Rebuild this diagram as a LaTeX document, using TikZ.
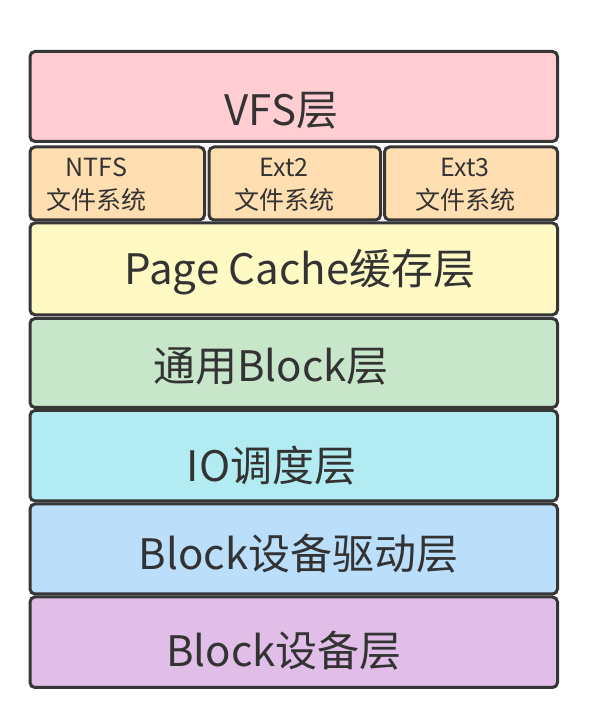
\documentclass[tikz,border=0pt]{standalone}
\usepackage{fontspec}
\setmainfont{Noto Sans CJK SC}
\definecolor{edge}{HTML}{363636}
\definecolor{txt}{HTML}{333333}
\definecolor{cpink}{HTML}{FFCDD2}
\definecolor{corange}{HTML}{FFDFB1}
\definecolor{cyellow}{HTML}{FFF9C4}
\definecolor{cgreen}{HTML}{C8E6C9}
\definecolor{ccyan}{HTML}{B2EBF2}
\definecolor{cblue}{HTML}{BBDEFB}
\definecolor{cpurple}{HTML}{E1BEE7}
\tikzset{
  layerbox/.style={draw=edge, line width=3pt, rounded corners=5pt, inner sep=0pt, rectangle},
  bigtext/.style={anchor=base, inner sep=0pt, text=txt, font=\fontsize{42}{50}\selectfont},
  smalltext/.style={anchor=base, inner sep=0pt, text=txt, font=\fontsize{25}{30}\selectfont},
}
\begin{document}
\begin{tikzpicture}[x=1pt,y=1pt]
\useasboundingbox[fill=white] (0,0) rectangle (591,723);
% boxes
\node[layerbox, fill=cpink, minimum width=527.5pt, minimum height=90pt] (vfs) at (293.75,626.5) {};
\node[layerbox, fill=corange, minimum width=174.5pt, minimum height=73pt] (ntfs) at (117.25,539.5) {};
\node[layerbox, fill=corange, minimum width=171.5pt, minimum height=73pt] (ext2) at (294.75,539.5) {};
\node[layerbox, fill=corange, minimum width=173pt, minimum height=73pt] (ext3) at (471,539.5) {};
\node[layerbox, fill=cyellow, minimum width=527.5pt, minimum height=91.8pt] (cache) at (293.75,454.1) {};
\node[layerbox, fill=cgreen, minimum width=527.5pt, minimum height=89pt] (block) at (293.75,360) {};
\node[layerbox, fill=ccyan, minimum width=527.5pt, minimum height=90.5pt] (io) at (293.75,267.25) {};
\node[layerbox, fill=cblue, minimum width=527.5pt, minimum height=90pt] (driver) at (293.75,174) {};
\node[layerbox, fill=cpurple, minimum width=527.5pt, minimum height=90.5pt] (device) at (293.75,80.75) {};
% texts
\node[bigtext] (tvfs) at (281.5,597.5) {VFS层};
\node[bigtext] (tcache) at (300,438) {Page Cache缓存层};
\node[bigtext] (tblock) at (271,341) {通用Block层};
\node[bigtext] (tio) at (271.5,241) {IO调度层};
\node[bigtext] (tdriver) at (298.5,153) {Block设备驱动层};
\node[bigtext] (tdevice) at (284,56) {Block设备层};
\node[smalltext] (tntfsa) at (96.5,546) {NTFS};
\node[smalltext] (tntfsb) at (96.5,513) {文件系统};
\node[smalltext] (text2a) at (284,546) {Ext2};
\node[smalltext] (text2b) at (284,513) {文件系统};
\node[smalltext] (text3a) at (465,546) {Ext3};
\node[smalltext] (text3b) at (465,513) {文件系统};
\end{tikzpicture}
\end{document}
